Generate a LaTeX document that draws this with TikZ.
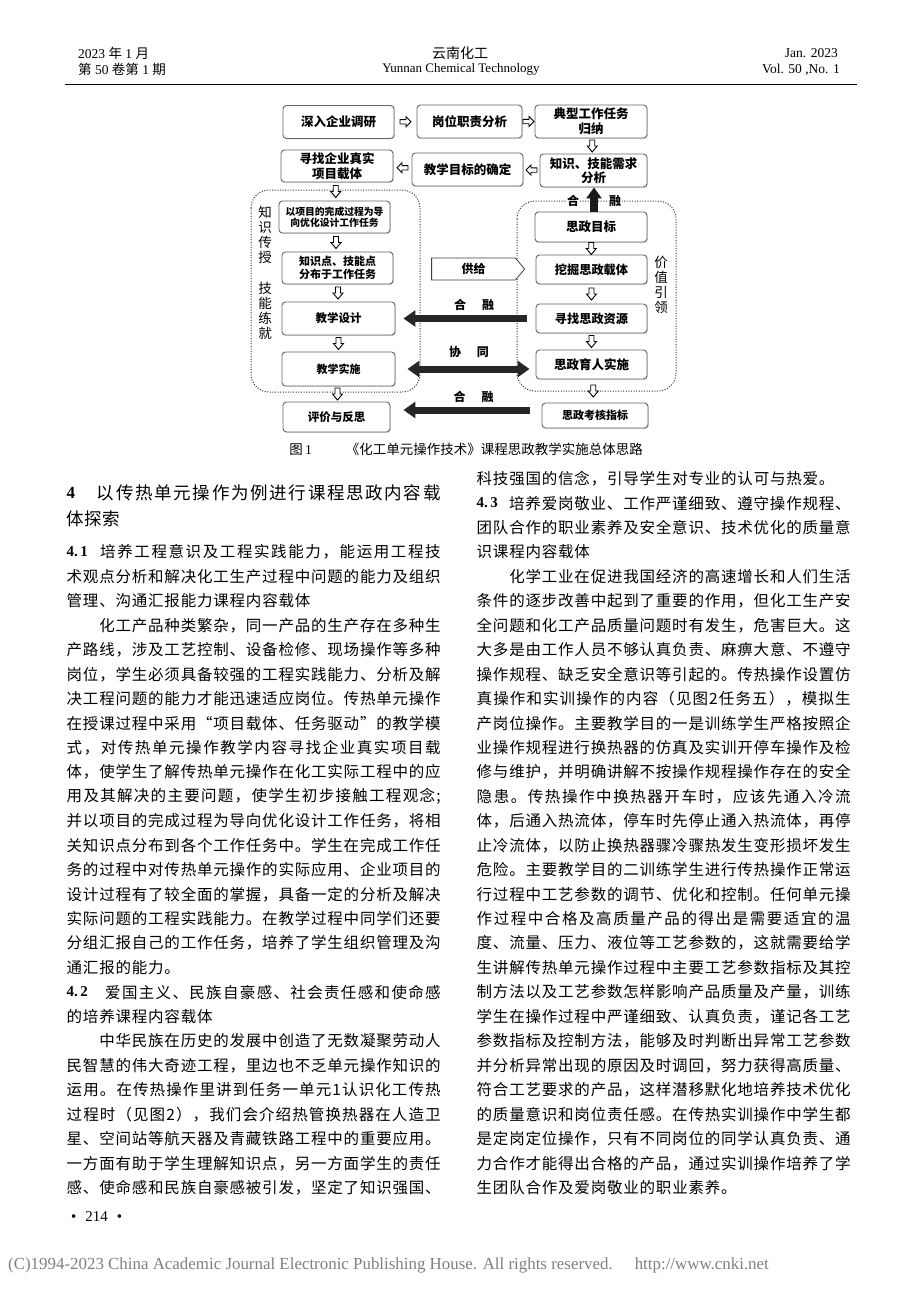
\documentclass[tikz,border=0pt]{standalone}
\usepackage{fontspec}
\setmainfont{Liberation Serif}
\newfontfamily\cjk{Noto Sans CJK SC}
\usetikzlibrary{arrows.meta,calc,shapes.symbols,shadows}
\makeatletter
\newcommand\jline[2]{\hbox to #1{\@tfor\jl@t:=#2\do{\jl@t\hskip 0pt plus 1fil}\unskip}}
\newcommand\kline[2]{\hbox{\@tfor\jl@t:=#2\do{\jl@t\kern#1}\unkern}}
\makeatother
\newcommand\JL[6]{\node[#1] (#2) at (#3,#4) {\jline{#5pt}{#6}};}
\newcommand\NL[5]{\node[#1] (#2) at (#3,#4) {\kline{0.8pt}{#5}};}
\tikzset{
  body/.style={anchor=west, inner sep=0pt, font=\cjk\fontsize{15.5}{18}\selectfont},
  hd/.style={anchor=west, inner sep=0pt, font=\cjk\fontsize{17.5}{20}\selectfont},
  num/.style={anchor=west, inner sep=0pt, font=\bfseries\fontsize{15}{18}\selectfont},
  box/.style={draw=black!60, line width=0.9pt, rounded corners=3.5pt, fill=white, align=center,
    inner sep=0pt, font=\cjk\bfseries\fontsize{12.5}{14.5}\selectfont,
    drop shadow={shadow xshift=0.9pt, shadow yshift=-0.9pt, opacity=0.3}},
  lab/.style={inner sep=0pt, font=\cjk\bfseries\fontsize{12}{14}\selectfont},
  vlab/.style={align=center, inner sep=0pt, font=\cjk\fontsize{13.5}{15}\selectfont},
  region/.style={draw=black!80, line width=1pt, dash pattern=on 1pt off 1.6pt, rounded corners=18pt},
  bigar/.style={line width=7pt, draw=black!85, -{Triangle[length=12pt,width=16pt]}},
  bigdar/.style={line width=7pt, draw=black!85, {Triangle[length=12pt,width=16pt]}-{Triangle[length=12pt,width=16pt]}},
  upar/.style={line width=8pt, draw=black!90, -{Triangle[length=11pt,width=15pt]}},
  dar/.pic={\draw[line width=0.9pt, fill=white] (-2.5,-6)--(2.5,-6)--(2.5,0)--(5,0)--(0,6)--(-5,0)--(-2.5,0)--cycle;},
  rar/.pic={\draw[line width=0.9pt, fill=white] (-5.5,-2.2)--(0.5,-2.2)--(0.5,-5)--(5.5,0)--(0.5,5)--(0.5,2.2)--(-5.5,2.2)--cycle;},
  lar/.pic={\draw[line width=0.9pt, fill=white] (5.5,-2.2)--(-0.5,-2.2)--(-0.5,-5)--(-5.5,0)--(-0.5,5)--(-0.5,2.2)--(5.5,2.2)--cycle;}
}
\begin{document}
\begin{tikzpicture}[x=1pt,y=-1pt]
\useasboundingbox (0,0) rectangle (920,1302);
\fill[white] (0,0) rectangle (920,1302);
% header
\node[anchor=west, inner sep=0pt, font=\fontsize{13.5}{15}\selectfont] (h1) at (78,53) {2023 {\cjk 年} 1 {\cjk 月}};
\node[anchor=west, inner sep=0pt, font=\fontsize{13.5}{15}\selectfont] (h2) at (78,69.5) {{\cjk 第} 50 {\cjk 卷第} 1 {\cjk 期}};
\node[inner sep=0pt, font=\cjk\fontsize{14}{16}\selectfont] (h3) at (460,53) {云南化工};
\node[inner sep=0pt, font=\fontsize{13}{15}\selectfont] (h4) at (461,69.5) {Yunnan Chemical Technology};
\node[anchor=east, inner sep=0pt, font=\fontsize{13.5}{15}\selectfont] (h5) at (838,53) {Jan. 2023};
\node[anchor=east, inner sep=0pt, font=\fontsize{13.5}{15}\selectfont] (h6) at (840,69.5) {Vol. 50 ,No. 1};
\draw[line width=1.4pt] (65,84.3) -- (857,84.3);
% regions
\draw[region] (251,190) rectangle (420,392);
\draw[region] (517,201) rectangle (676,391);
% boxes
\node[box, minimum width=111pt, minimum height=33pt] (B1) at (338.5,122) {深入企业调研};
\node[box, minimum width=105pt, minimum height=33pt] (B2) at (469.5,121.5) {岗位职责分析};
\node[box, minimum width=112pt, minimum height=33pt] (B3) at (591,121.5) {典型工作任务\\归纳};
\node[box, minimum width=107pt, minimum height=33pt] (B4) at (593.5,170.5) {知识、技能需求\\分析};
\node[box, minimum width=111pt, minimum height=33pt] (B5) at (467.5,169.5) {教学目标的确定};
\node[box, minimum width=112pt, minimum height=32pt] (B6) at (337,166) {寻找企业真实\\项目载体};
\node[box, minimum width=111pt, minimum height=32pt, font=\cjk\bfseries\fontsize{9.8}{11.5}\selectfont] (L1) at (334.5,217) {以项目的完成过程为导\\向优化设计工作任务};
\node[box, minimum width=111pt, minimum height=32pt, font=\cjk\bfseries\fontsize{11}{13.5}\selectfont] (L2) at (337.5,268) {知识点、技能点\\分布于工作任务};
\node[box, minimum width=113pt, minimum height=33pt, font=\cjk\bfseries\fontsize{11.5}{13.5}\selectfont] (L3) at (338.5,318.5) {教学设计};
\node[box, minimum width=113pt, minimum height=34pt, font=\cjk\bfseries\fontsize{11}{13.5}\selectfont] (L4) at (338.5,369) {教学实施};
\node[box, minimum width=107pt, minimum height=30pt, font=\cjk\bfseries\fontsize{11.5}{13.5}\selectfont] (L5) at (336.5,417) {评价与反思};
\node[box, minimum width=112pt, minimum height=30pt] (R1) at (591,227) {思政目标};
\node[box, minimum width=111pt, minimum height=29pt, font=\cjk\bfseries\fontsize{12.2}{14}\selectfont] (R2) at (591.5,269.5) {挖掘思政载体};
\node[box, minimum width=111pt, minimum height=29pt, font=\cjk\bfseries\fontsize{12.2}{14}\selectfont] (R3) at (591.5,318.5) {寻找思政资源};
\node[box, minimum width=111pt, minimum height=29pt] (R4) at (591.5,364.5) {思政育人实施};
\node[box, minimum width=106pt, minimum height=25pt, font=\cjk\bfseries\fontsize{11}{13}\selectfont] (R5) at (595,415.5) {思政考核指标};
% supply arrow
\node[draw=black!75, line width=0.8pt, fill=white, signal, signal to=east, signal pointer angle=100,
  minimum width=93pt, minimum height=22pt, inner sep=0pt, font=\cjk\bfseries\fontsize{12}{14}\selectfont] (gj) at (473.5,269) {供给};
% small hollow arrows
\pic at ($(B1.east)!0.5!(B2.west)$) {rar};
\pic at ($(B2.east)!0.5!(B3.west)$) {rar};
\pic at ($(B3.south)!0.5!(B4.north)$) {dar};
\pic at ($(B4.west)!0.5!(B5.east)$) {lar};
\pic at ($(B5.west)!0.5!(B6.east)$) {lar};
\pic at ($(B6.south)!0.5!(L1.north)$) {dar};
\pic at ($(L1.south)!0.5!(L2.north)$) {dar};
\pic at ($(L2.south)!0.5!(L3.north)$) {dar};
\pic at ($(L3.south)!0.5!(L4.north)$) {dar};
\pic at ($(L4.south)!0.5!(L5.north)$) {dar};
\pic at ($(R1.south)!0.5!(R2.north)$) {dar};
\pic at ($(R2.south)!0.5!(R3.north)$) {dar};
\pic at ($(R3.south)!0.5!(R4.north)$) {dar};
\pic at ($(R4.south)!0.5!(R5.north)$) {dar};
% big arrows
\draw[bigar] ([xshift=-9pt]R3.west) -- ([xshift=8pt]L3.east);
\coordinate (a2r) at (L4.east -| R4.west);
\draw[bigdar] ([xshift=12pt]L4.east) -- ([xshift=-6pt]a2r);
\coordinate (a3s) at ([xshift=-12pt,yshift=5.5pt]R5.west);
\coordinate (a3e) at (a3s -| L5.east);
\draw[bigar] (a3s) -- ([xshift=13pt]a3e);
\coordinate (upb) at ([xshift=3pt]R1.north);
\coordinate (upe) at (upb |- B4.south);
\draw[upar] (upb) -- (upe);
% labels
\node[lab] (hr1) at (474,305) {合\hspace{16pt}融};
\node[lab] (xt) at (469,352) {协\hspace{16pt}同};
\node[lab] (hr2) at (473.5,397) {合\hspace{16pt}融};
\node[lab, fill=white, inner sep=1pt] (he3) at (573,201) {合};
\node[lab, fill=white, inner sep=1pt] (ro3) at (615,201) {融};
\node[vlab] (zs) at (265,234.5) {知\\识\\传\\授};
\node[vlab] (jn) at (265,310.5) {技\\能\\练\\就};
\node[vlab] (jz) at (661,284.5) {价\\值\\引\\领};
\node[inner sep=0pt, font=\fontsize{13.5}{15}\selectfont] (cap) at (466,449.5) {{\cjk 图}\,1\hspace{34pt}{\cjk 《化工单元操作技术》课程思政教学实施总体思路}};
% left column
\node[anchor=west, inner sep=0pt, font=\bfseries\fontsize{17}{20}\selectfont] (n4) at (66.5,492.5) {4};
\JL{hd}{lh1}{96.7}{492.5}{343.8}{以传热单元操作为例进行课程思政内容载}
\node[hd] (lh2) at (66.5,518.8) {\kline{0.6pt}{体探索}};
\node[num] (n41) at (66.5,552) {4.\,1};
\JL{body}{l0}{100}{552}{340.5}{培养工程意识及工程实践能力，能运用工程技}
\JL{body}{l1}{66.5}{576.45}{374}{术观点分析和解决化工生产过程中问题的能力及组织}
\NL{body}{l2}{66.5}{600.9}{管理、沟通汇报能力课程内容载体}
\JL{body}{l3}{99.1}{625.35}{341.4}{化工产品种类繁杂，同一产品的生产存在多种生}
\JL{body}{l4}{66.5}{649.8}{374}{产路线，涉及工艺控制、设备检修、现场操作等多种}
\JL{body}{l5}{66.5}{674.25}{374}{岗位，学生必须具备较强的工程实践能力、分析及解}
\JL{body}{l6}{66.5}{698.7}{374}{决工程问题的能力才能迅速适应岗位。传热单元操作}
\JL{body}{l7}{66.5}{723.15}{374}{在授课过程中采用“项目载体、任务驱动”的教学模}
\JL{body}{l8}{66.5}{747.6}{374}{式，对传热单元操作教学内容寻找企业真实项目载}
\JL{body}{l9}{66.5}{772.05}{374}{体，使学生了解传热单元操作在化工实际工程中的应}
\JL{body}{l10}{66.5}{796.5}{374}{用及其解决的主要问题，使学生初步接触工程观念;}
\JL{body}{l11}{66.5}{820.95}{374}{并以项目的完成过程为导向优化设计工作任务，将相}
\JL{body}{l12}{66.5}{845.4}{374}{关知识点分布到各个工作任务中。学生在完成工作任}
\JL{body}{l13}{66.5}{869.85}{374}{务的过程中对传热单元操作的实际应用、企业项目的}
\JL{body}{l14}{66.5}{894.3}{374}{设计过程有了较全面的掌握，具备一定的分析及解决}
\JL{body}{l15}{66.5}{918.75}{374}{实际问题的工程实践能力。在教学过程中同学们还要}
\JL{body}{l16}{66.5}{943.2}{374}{分组汇报自己的工作任务，培养了学生组织管理及沟}
\NL{body}{l17}{66.5}{967.65}{通汇报的能力。}
\node[num] (n42) at (66.5,992.1) {4.\,2};
\JL{body}{l18}{105}{992.1}{335.5}{爱国主义、民族自豪感、社会责任感和使命感}
\NL{body}{l19}{66.5}{1016.55}{的培养课程内容载体}
\JL{body}{l20}{99.1}{1041}{341.4}{中华民族在历史的发展中创造了无数凝聚劳动人}
\JL{body}{l21}{66.5}{1065.45}{374}{民智慧的伟大奇迹工程，里边也不乏单元操作知识的}
\JL{body}{l22}{66.5}{1089.9}{374}{运用。在传热操作里讲到任务一单元1认识化工传热}
\JL{body}{l23}{66.5}{1114.35}{374}{过程时（见图2），我们会介绍热管换热器在人造卫}
\JL{body}{l24}{66.5}{1138.8}{374}{星、空间站等航天器及青藏铁路工程中的重要应用。}
\JL{body}{l25}{66.5}{1163.25}{374}{一方面有助于学生理解知识点，另一方面学生的责任}
\JL{body}{l26}{66.5}{1187.7}{374}{感、使命感和民族自豪感被引发，坚定了知识强国、}
% right column
\NL{body}{r0}{476.5}{478.65}{科技强国的信念，引导学生对专业的认可与热爱。}
\node[num] (n43) at (476.5,503.1) {4.\,3};
\JL{body}{r1}{509}{503.1}{341.5}{培养爱岗敬业、工作严谨细致、遵守操作规程、}
\JL{body}{r2}{476.5}{527.55}{374}{团队合作的职业素养及安全意识、技术优化的质量意}
\NL{body}{r3}{476.5}{552}{识课程内容载体}
\JL{body}{r4}{509.1}{576.45}{341.4}{化学工业在促进我国经济的高速增长和人们生活}
\JL{body}{r5}{476.5}{600.9}{374}{条件的逐步改善中起到了重要的作用，但化工生产安}
\JL{body}{r6}{476.5}{625.35}{374}{全问题和化工产品质量问题时有发生，危害巨大。这}
\JL{body}{r7}{476.5}{649.8}{374}{大多是由工作人员不够认真负责、麻痹大意、不遵守}
\JL{body}{r8}{476.5}{674.25}{374}{操作规程、缺乏安全意识等引起的。传热操作设置仿}
\JL{body}{r9}{476.5}{698.7}{374}{真操作和实训操作的内容（见图2任务五），模拟生}
\JL{body}{r10}{476.5}{723.15}{374}{产岗位操作。主要教学目的一是训练学生严格按照企}
\JL{body}{r11}{476.5}{747.6}{374}{业操作规程进行换热器的仿真及实训开停车操作及检}
\JL{body}{r12}{476.5}{772.05}{374}{修与维护，并明确讲解不按操作规程操作存在的安全}
\JL{body}{r13}{476.5}{796.5}{374}{隐患。传热操作中换热器开车时，应该先通入冷流}
\JL{body}{r14}{476.5}{820.95}{374}{体，后通入热流体，停车时先停止通入热流体，再停}
\JL{body}{r15}{476.5}{845.4}{374}{止冷流体，以防止换热器骤冷骤热发生变形损坏发生}
\JL{body}{r16}{476.5}{869.85}{374}{危险。主要教学目的二训练学生进行传热操作正常运}
\JL{body}{r17}{476.5}{894.3}{374}{行过程中工艺参数的调节、优化和控制。任何单元操}
\JL{body}{r18}{476.5}{918.75}{374}{作过程中合格及高质量产品的得出是需要适宜的温}
\JL{body}{r19}{476.5}{943.2}{374}{度、流量、压力、液位等工艺参数的，这就需要给学}
\JL{body}{r20}{476.5}{967.65}{374}{生讲解传热单元操作过程中主要工艺参数指标及其控}
\JL{body}{r21}{476.5}{992.1}{374}{制方法以及工艺参数怎样影响产品质量及产量，训练}
\JL{body}{r22}{476.5}{1016.55}{374}{学生在操作过程中严谨细致、认真负责，谨记各工艺}
\JL{body}{r23}{476.5}{1041}{374}{参数指标及控制方法，能够及时判断出异常工艺参数}
\JL{body}{r24}{476.5}{1065.45}{374}{并分析异常出现的原因及时调回，努力获得高质量、}
\JL{body}{r25}{476.5}{1089.9}{374}{符合工艺要求的产品，这样潜移默化地培养技术优化}
\JL{body}{r26}{476.5}{1114.35}{374}{的质量意识和岗位责任感。在传热实训操作中学生都}
\JL{body}{r27}{476.5}{1138.8}{374}{是定岗定位操作，只有不同岗位的同学认真负责、通}
\JL{body}{r28}{476.5}{1163.25}{374}{力合作才能得出合格的产品，通过实训操作培养了学}
\NL{body}{r29}{476.5}{1187.7}{生团队合作及爱岗敬业的职业素养。}
% footer
\node[anchor=west, inner sep=0pt, font=\fontsize{15}{17}\selectfont] (pg) at (71,1217) {•\hspace{9pt}214\hspace{9pt}•};
\node[anchor=west, inner sep=0pt, text=black!50, font=\fontsize{16.9}{19}\selectfont] (cr) at (8,1265) {(C)1994-2023 China Academic Journal Electronic Publishing House. All rights reserved.\hspace{22pt}http://www.cnki.net};
\end{tikzpicture}
\end{document}
